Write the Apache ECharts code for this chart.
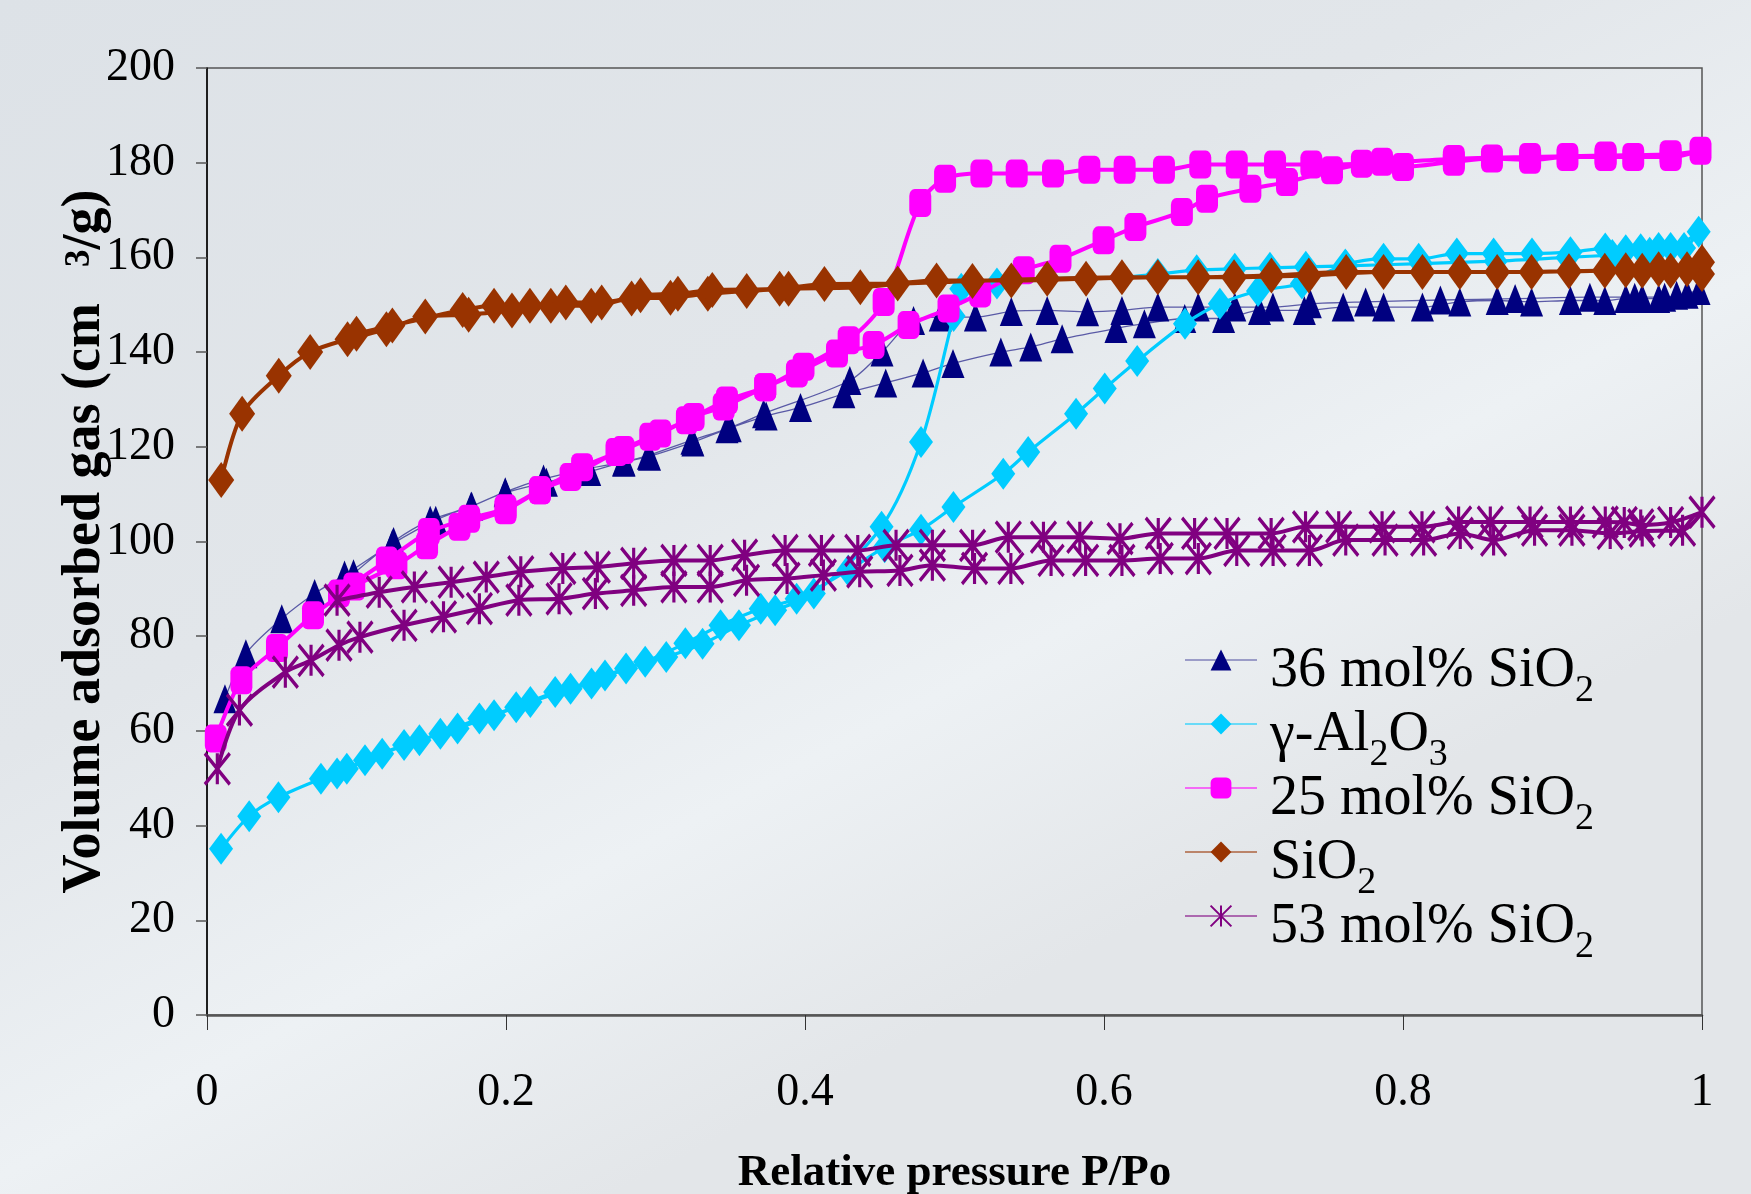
<!DOCTYPE html>
<html><head><meta charset="utf-8">
<script src="https://cdn.jsdelivr.net/npm/echarts@6/dist/echarts.min.js"></script>
<style>html,body{margin:0;padding:0;background:#e2e6ea;} #c{width:1751px;height:1194px;}</style>
</head><body><div id="c"></div>
<script>
// ---- tick labels ----
const xTickLabels = ['0', '0.2', '0.4', '0.6', '0.8', '1'];
const yTickLabels = ['0', '20', '40', '60', '80', '100', '120', '140', '160', '180', '200'];
const seriesNames = ['36 mol% SiO2', 'γ-Al2O3', '25 mol% SiO2', 'SiO2', '53 mol% SiO2'];

// ---- 36 mol% SiO2 : [P/Po, volume] ----
const mol36Ads = [[0.012,66.8],[0.026,76.3],[0.050,83.7],[0.072,89.0],[0.092,92.9],[0.124,99.5],[0.153,104.5],[0.177,107.5],[0.1995,110.3],[0.227,112.5],[0.256,114.8],[0.279,116.8],[0.296,118],[0.325,121],[0.35,124],[0.374,126.5],[0.397,128.3],[0.426,131.2],[0.454,133.5],[0.479,135.6],[0.499,137.6],[0.531,140],[0.551,141.1],[0.572,142.8],[0.608,145],[0.627,146],[0.654,147.1],[0.680,147.1],[0.704,148.8],[0.734,148.8],[0.760,149.5],[0.787,149.5],[0.813,149.5],[0.838,150.6],[0.863,150.9],[0.886,150.6],[0.912,150.9],[0.935,150.9],[0.949,151.3],[0.960,151.3],[0.971,151.3],[0.983,152],[0.998,153]];
const mol36Des = [[0.990,152.2],[0.975,151.6],[0.955,151.6],[0.925,151.6],[0.875,151.3],[0.825,151],[0.775,150.6],[0.738,150.2],[0.713,149.5],[0.6875,149.5],[0.663,149.5],[0.636,149.5],[0.612,148.8],[0.589,148.5],[0.562,148.8],[0.538,148.6],[0.514,147.4],[0.4905,147.4],[0.4726,146.7],[0.4515,140],[0.430,134],[0.3723,127],[0.3478,123.8],[0.3244,121.4],[0.2953,118.2],[0.2786,116.8],[0.2519,115.2],[0.2251,113.2],[0.1995,110.5],[0.1766,107.4],[0.1493,104.5],[0.1248,100],[0.098,93.2]];

// ---- gamma-Al2O3 ----
const aluminaAds = [[0.0094,35.1],[0.0282,42.0],[0.0478,46.0],[0.0762,49.9],[0.0935,52.0],[0.1172,55.2],[0.1421,58.0],[0.1676,60.5],[0.192,63.3],[0.2163,66.1],[0.2432,68.9],[0.2662,71.7],[0.2931,74.6],[0.32,78.5],[0.3435,82.3],[0.3704,85.8],[0.3944,87.9],[0.4289,93.9],[0.4533,98.8],[0.4776,102.5],[0.4993,107.3],[0.5326,114.3],[0.5493,118.9],[0.5813,127],[0.6005,132.3],[0.6222,138.1],[0.6542,146],[0.6775,150.2],[0.703,152.9],[0.7324,154.5],[0.7614,158.5],[0.787,159.7],[0.8105,159.7],[0.836,160.8],[0.8606,160.8],[0.8863,160.8],[0.912,161.1],[0.9353,161.9],[0.949,161.5],[0.959,161.7],[0.971,162],[0.979,162],[0.9978,165.4]];
const aluminaDes = [[0.988,162],[0.965,161],[0.94,160.5],[0.91,160],[0.862,159.2],[0.812,158.7],[0.762,158.2],[0.735,158],[0.711,157.8],[0.6875,157.6],[0.662,157.3],[0.636,156.5],[0.612,155.8],[0.562,155.5],[0.5284,154.5],[0.5045,153.4],[0.4994,147.6],[0.4776,121],[0.4512,103.1],[0.4059,89.0],[0.38,85.5],[0.3558,82.3],[0.3315,78.4],[0.3072,75.6],[0.2803,73.2],[0.2572,70.0],[0.2329,68.2],[0.2068,65.0],[0.1822,62.6],[0.1561,59.4],[0.1318,57.0],[0.1057,53.8],[0.087,51.0]];

// ---- 25 mol% SiO2 ----
const mol25Ads = [[0.0059,58.4],[0.023,70.7],[0.0468,77.5],[0.0709,84.4],[0.0985,90.5],[0.1267,95],[0.1472,99.2],[0.1689,103.1],[0.1997,106.6],[0.2227,110.8],[0.2509,115.7],[0.2786,119.3],[0.3032,122.8],[0.3255,126.3],[0.3456,128.5],[0.3734,132.6],[0.3946,135.5],[0.4214,139.7],[0.4459,141.5],[0.4693,145.7],[0.496,149.2],[0.5172,152.4],[0.5463,157.3],[0.5709,159.7],[0.5997,163.6],[0.621,166.4],[0.6521,169.6],[0.6689,172.4],[0.6979,174.5],[0.7224,175.9],[0.7525,178.4],[0.786,180.2],[0.80,179.1],[0.834,180.2],[0.8595,180.9],[0.885,180.6],[0.91,181.2],[0.9355,181.2],[0.954,181.2],[0.979,181.2],[0.999,182.5]];
const mol25Des = [[0.979,181.8],[0.9355,181.5],[0.885,181.2],[0.834,180.8],[0.7725,179.8],[0.7387,179.6],[0.7144,179.6],[0.6888,179.6],[0.6644,179.6],[0.6401,178.5],[0.6138,178.5],[0.5902,178.5],[0.5659,177.7],[0.5416,177.7],[0.518,177.7],[0.4937,176.6],[0.4771,171.5],[0.4526,150.6],[0.4292,142.5],[0.399,136.9],[0.3734,132.6],[0.3478,129.8],[0.321,125.6],[0.2965,122.1],[0.2739,118.9],[0.2432,113.6],[0.2227,110.8],[0.1997,107],[0.1754,104.8],[0.1484,102],[0.1203,96],[0.0883,89]];

// ---- SiO2 ----
const silicaAds = [[0.0095,113],[0.0235,127],[0.048,135],[0.069,140],[0.094,142.7],[0.12,144.8],[0.146,147.5],[0.175,147.9],[0.204,148.8],[0.23,149.8],[0.257,149.8],[0.284,151.3],[0.31,151.5],[0.335,152.3],[0.361,152.9],[0.389,153.4],[0.437,153.7],[0.488,155.1],[0.538,155.1],[0.588,155.5],[0.636,155.8],[0.687,155.8],[0.737,156.2],[0.787,156.9],[0.838,156.9],[0.886,156.9],[0.935,157.2],[0.96,157.2],[0.979,157.2],[1.0,156.5]];
const silicaDes = [[1.0,159],[0.99,157.5],[0.971,157.5],[0.949,157.3],[0.911,157.1],[0.863,156.9],[0.813,156.9],[0.762,156.9],[0.712,156.2],[0.663,155.8],[0.612,155.8],[0.562,155.5],[0.512,155],[0.462,154.5],[0.413,154.4],[0.383,153.4],[0.338,153.1],[0.315,152.3],[0.29,152],[0.264,150.5],[0.24,150.5],[0.216,149.8],[0.192,149.8],[0.171,148.9],[0.124,145.6],[0.1,143.9]];

// ---- 53 mol% SiO2 ----
const mol53Ads = [[0.0069,52.0],[0.0217,64.4],[0.0524,72.4],[0.0696,74.9],[0.0883,78.1],[0.1023,79.8],[0.1318,82.3],[0.1582,84.1],[0.1822,85.8],[0.2086,87.6],[0.2355,87.9],[0.2598,89.0],[0.2854,89.7],[0.3123,90.4],[0.3366,90.4],[0.3609,91.8],[0.388,92.2],[0.4123,92.9],[0.4366,93.6],[0.4635,93.9],[0.4852,95.0],[0.5134,94.3],[0.5377,94.3],[0.5646,96.0],[0.5877,96.0],[0.612,96.0],[0.6376,96.4],[0.6631,96.4],[0.6888,98.1],[0.7131,98.1],[0.7374,98.1],[0.7617,100.3],[0.788,100.3],[0.8138,100.3],[0.8383,101.7],[0.8606,100.3],[0.888,102.4],[0.913,102.4],[0.9386,101.7],[0.96,102.2],[0.987,102.4],[1.0,106.2]];
const mol53Des = [[0.979,104],[0.959,103.5],[0.948,104],[0.9353,104.1],[0.912,104.1],[0.885,104.1],[0.8584,104.1],[0.8372,104.1],[0.8127,103.1],[0.786,103.1],[0.757,103.1],[0.7348,103.1],[0.7118,101.7],[0.6823,101.7],[0.6606,101.7],[0.6363,101.7],[0.6107,100.6],[0.5838,100.9],[0.5595,100.9],[0.536,100.9],[0.5121,99.2],[0.4852,99.2],[0.4609,99.2],[0.4353,98.1],[0.411,98.1],[0.3867,98.1],[0.3596,97.1],[0.3366,96.0],[0.3123,96.0],[0.2854,95.4],[0.2611,94.6],[0.238,94.3],[0.2099,93.6],[0.1868,92.5],[0.1633,91.4],[0.1387,90.4],[0.1152,89.3],[0.087,87.6]];

const SERIF = '"Liberation Serif", "Times New Roman", serif';
const ASTERISK = 'path://M0,0L20,26M20,0L0,26M10,0L10,26';

function legendLabel(name) {
  // digits directly following a letter are chemical subscripts
  let out = '';
  let first = true;
  const re = /([A-Za-z])(\d+)/g;
  let last = 0, m;
  while ((m = re.exec(name)) !== null) {
    const txt = name.slice(last, m.index + 1);
    out += '{' + (first ? 'm0' : 'm') + '|' + txt + '}{s|' + m[2] + '}';
    first = false;
    last = m.index + m[0].length;
  }
  if (last < name.length) out += '{' + (first ? 'm0' : 'm') + '|' + name.slice(last) + '}';
  return out;
}

const chart = echarts.init(document.getElementById('c'), null, {renderer: 'canvas'});

function mk(i, ads, des, color, lineColor, lineWidth, symbol, size, extraItem) {
  return {
    name: seriesNames[i],
    type: 'line',
    z: 2 + i,
    data: ads.concat(des),
    smooth: 0.3,
    showSymbol: true,
    showAllSymbol: true,
    symbol: symbol,
    symbolSize: size,
    lineStyle: {color: lineColor, width: lineWidth},
    itemStyle: Object.assign({color: color, borderWidth: 0}, extraItem || {}),
    emphasis: {disabled: true},
    animation: false
  };
}

const option = {
  animation: false,
  backgroundColor: {
    type: 'linear', x: 0, y: 0, x2: 0.35, y2: 1,
    colorStops: [
      {offset: 0, color: '#dde2e7'},
      {offset: 0.5, color: '#e2e6ea'},
      {offset: 0.78, color: '#edf1f4'},
      {offset: 1, color: '#e3e6e9'}
    ]
  },
  grid: {
    left: 207, right: 49, top: 68, bottom: 179,
    show: true, borderColor: '#555', borderWidth: 1.5, backgroundColor: 'transparent',
    outerBoundsMode: 'none', containLabel: false
  },
  xAxis: {
    type: 'value', min: 0, max: 1, interval: 0.2,
    name: 'Relative pressure P/Po', nameLocation: 'middle', nameGap: 136, nameMoveOverlap: false,
    nameTextStyle: {fontFamily: SERIF, fontSize: 45, fontWeight: 'bold', color: '#000'},
    axisLine: {show: true, onZero: false, lineStyle: {color: '#555', width: 2.5}},
    axisTick: {show: true, length: 15, lineStyle: {color: '#333', width: 1}},
    axisLabel: {
      margin: 55, fontFamily: SERIF, fontSize: 46, color: '#000',
      formatter: function (v) { return xTickLabels[Math.round(v / 0.2)]; }
    },
    splitLine: {show: false}
  },
  yAxis: {
    type: 'value', min: 0, max: 200, interval: 20,
    name: '{t|Volume adsorbed gas (cm}{sup|3}{t|/g)}',
    nameLocation: 'middle', nameGap: 87, nameRotate: 90, nameMoveOverlap: false,
    nameTextStyle: {
      fontFamily: SERIF, fontSize: 54, fontWeight: 'bold', color: '#000',
      rich: {
        t: {fontFamily: SERIF, fontSize: 54, fontWeight: 'bold', color: '#000', lineHeight: 62, verticalAlign: 'top'},
        sup: {fontFamily: SERIF, fontSize: 35, fontWeight: 'bold', color: '#000', lineHeight: 35, verticalAlign: 'top', padding: [4, 0, 0, 36]}
      }
    },
    axisLine: {show: true, lineStyle: {color: '#000', width: 1.5}},
    axisTick: {show: true, length: 11, lineStyle: {color: '#555', width: 1.5}},
    axisLabel: {
      margin: 32, fontFamily: SERIF, fontSize: 46, color: '#000',
      formatter: function (v) { return yTickLabels[Math.round(v / 20)]; }
    },
    splitLine: {show: false}
  },
  legend: {
    show: true, orient: 'vertical', left: 1184, top: 632, padding: 0,
    itemWidth: 72, itemHeight: 26, itemGap: -14,
    data: seriesNames,
    selectedMode: false,
    lineStyle: {width: 2, opacity: 0.55},
    formatter: legendLabel,
    textStyle: {
      fontFamily: SERIF, fontSize: 56, color: '#000',
      rich: {
        m0: {fontFamily: SERIF, fontSize: 56, color: '#000', lineHeight: 56, verticalAlign: 'top', padding: [11, 0, 11, 8]},
        m: {fontFamily: SERIF, fontSize: 56, color: '#000', lineHeight: 56, verticalAlign: 'top', padding: [11, 0, 11, 0]},
        s: {fontFamily: SERIF, fontSize: 38, color: '#000', lineHeight: 38, verticalAlign: 'top', padding: [40, 0, 0, 0]}
      }
    }
  },
  series: [
    mk(0, mol36Ads, mol36Des, '#000080', '#5a5aa6', 1.3, 'triangle', [23, 29]),
    mk(1, aluminaAds, aluminaDes, '#00CCFF', '#00CCFF', 3.2, 'diamond', [24, 32]),
    mk(2, mol25Ads, mol25Des, '#FF00FF', '#FF00FF', 4, 'roundRect', [22, 28]),
    mk(3, silicaAds, silicaDes, '#993300', '#993300', 4, 'diamond', [26, 36]),
    mk(4, mol53Ads, mol53Des, 'rgba(0,0,0,0)', '#800080', 4, ASTERISK, [25, 31], {borderColor: '#800080', borderWidth: 3.5})
  ]
};
chart.setOption(option);
</script>
</body></html>
